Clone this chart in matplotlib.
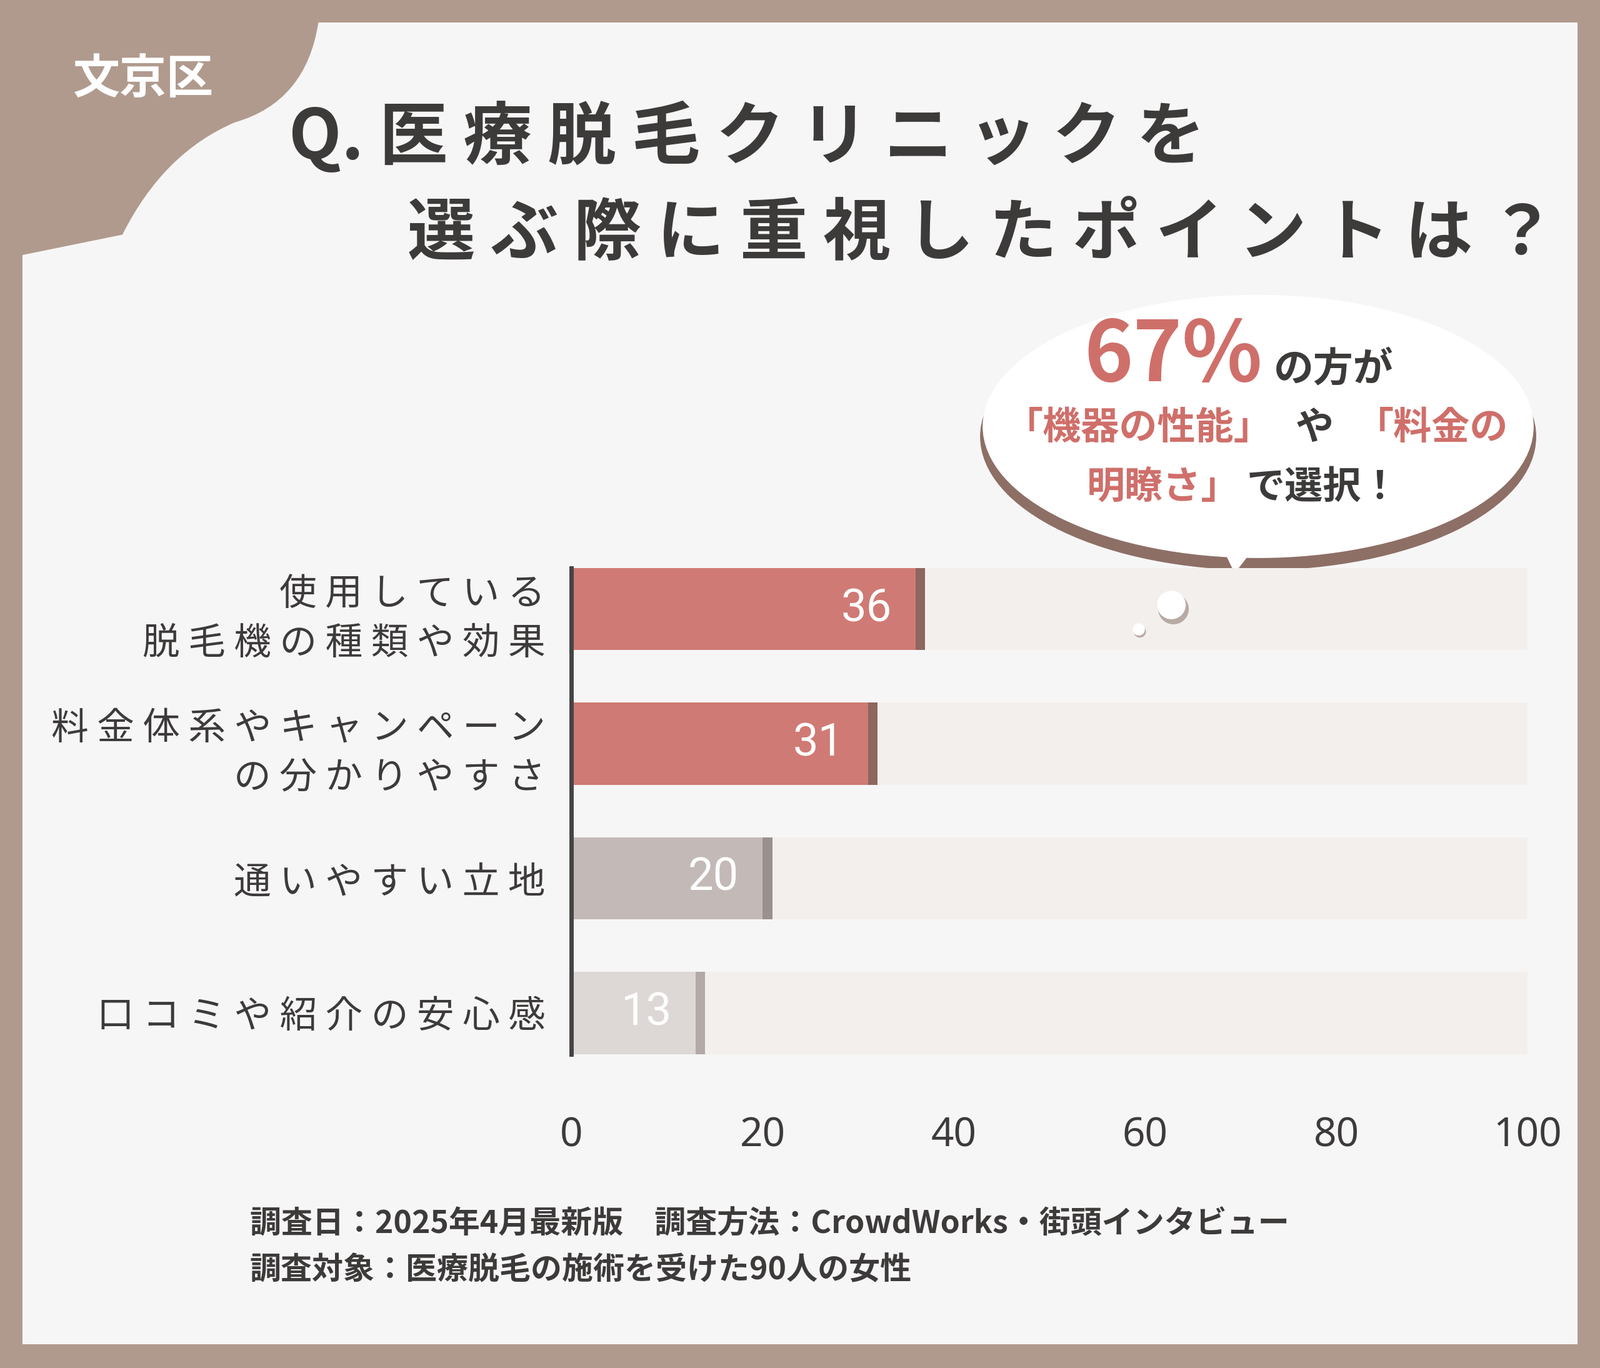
import matplotlib
matplotlib.use("Agg")
import matplotlib.pyplot as plt
from matplotlib.patches import Ellipse, Circle, Polygon, PathPatch, Rectangle
from matplotlib.path import Path

plt.rcParams["font.family"] = "Noto Sans CJK JP"

categories = ["使用している\n脱毛機の種類や効果", "料金体系やキャンペーン\nの分かりやすさ", "通いやすい立地", "口コミや紹介の安心感"]
values = [36, 31, 20, 13]
bar_colors = ["#cf7a75", "#cf7a75", "#c3bab7", "#ddd7d5"]
shadow_colors = ["#8e6660", "#8e6660", "#9a908d", "#b3aaa7"]
ticks = [0, 20, 40, 60, 80, 100]

BROWN = "#b09a8e"
DARK = "#3d3a3a"
RED = "#cf6f6a"

W, H = 1568, 1341
fig = plt.figure(figsize=(25.6, 21.89), dpi=100)
fig.patch.set_facecolor(BROWN)

# decoration layer in reference pixel coords
bg = fig.add_axes([0, 0, 1, 1])
bg.set_xlim(0, W)
bg.set_ylim(H, 0)
bg.axis("off")
bg.add_patch(Rectangle((22, 22), 1524, 1296, facecolor="#f7f6f6", edgecolor="none"))
blob = Path([(22, 22), (312, 22), (312, 22), (300, 100), (230, 120), (160, 150), (120, 230), (22, 250), (22, 22)],
            [Path.MOVETO, Path.LINETO, Path.LINETO, Path.CURVE3, Path.CURVE3, Path.CURVE3, Path.CURVE3, Path.LINETO, Path.CLOSEPOLY])
bg.add_patch(PathPatch(blob, facecolor=BROWN, edgecolor="none"))
bg.text(140, 78, "文京区", color="white", fontsize=54, fontweight="bold", ha="center", va="center")

def spaced(s):
    return " ".join(s)

bg.text(283, 135, "Q. " + spaced("医療脱毛クリニックを"), color=DARK, fontsize=79, fontweight="bold", ha="left", va="center")
bg.text(1525, 230, spaced("選ぶ際に重視したポイントは？"), color=DARK, fontsize=78, fontweight="bold", ha="right", va="center")

# speech bubble
bg.add_patch(Ellipse((1233, 428), 545, 262, facecolor="#8d6f66", edgecolor="none"))
bg.add_patch(Polygon([(1180, 520), (1250, 520), (1212, 575)], facecolor="#8d6f66", edgecolor="none"))
bg.add_patch(Ellipse((1233, 418), 540, 258, facecolor="white", edgecolor="none"))
bg.add_patch(Polygon([(1185, 510), (1250, 510), (1210, 562)], facecolor="white", edgecolor="none"))

bg.text(1150, 350, "67%", color=RED, fontsize=96, fontweight="bold", ha="center", va="center")
bg.text(1248, 362, "の方が", color=DARK, fontsize=46, fontweight="bold", ha="left", va="center")
bg.text(985, 420, "「機器の性能」", color=RED, fontsize=44, fontweight="bold", ha="left", va="center")
bg.text(1288, 420, "や", color=DARK, fontsize=44, fontweight="bold", ha="center", va="center")
bg.text(1478, 420, "「料金の", color=RED, fontsize=44, fontweight="bold", ha="right", va="center")
bg.text(1215, 478, "明瞭さ」", color=RED, fontsize=44, fontweight="bold", ha="right", va="center")
bg.text(1222, 478, "で選択！", color=DARK, fontsize=44, fontweight="bold", ha="left", va="center")

bg.text(245, 1200, "調査日：2025年4月最新版　調査方法：CrowdWorks・街頭インタビュー", color=DARK, fontsize=36, fontweight="bold", ha="left", va="center")
bg.text(245, 1245, "調査対象：医療脱毛の施術を受けた90人の女性", color=DARK, fontsize=36, fontweight="bold", ha="left", va="center")

# chart
ax = fig.add_axes([560 / W, 1 - 1060 / H, (1497 - 560) / W, 530 / H])
ax.patch.set_alpha(0)
pos = list(range(len(categories)))
hgt = 0.61
ax.barh(pos, [100] * len(pos), height=hgt, left=0.8, color="#e4dedb", zorder=1)
ax.barh(pos, [100] * len(pos), height=hgt, color="#f3efec", zorder=1.5)
ax.barh(pos, [v + 1.0 for v in values], height=hgt, color=shadow_colors, zorder=2)
ax.barh(pos, values, height=hgt, color=bar_colors, zorder=3)
for p, v in zip(pos, values):
    ax.text(v - 2.5, p, str(v), color="white", fontsize=52, fontfamily="Roboto",
            ha="right", va="center", zorder=4)
ax.set_xlim(0, 100)
ax.set_ylim(3.508, -0.508)
ax.set_xticks(ticks)
ax.set_xticklabels([str(t) for t in ticks], fontsize=46, color=DARK, fontfamily="Noto Sans")
ax.tick_params(axis="x", length=0, pad=40)
ax.set_yticks(pos)
ax.set_yticklabels(["\n".join(spaced(l) for l in c.split("\n")) for c in categories],
                   fontsize=43, color=DARK, linespacing=1.4, ha="right")
ax.tick_params(axis="y", length=0, pad=30)
for s in ["top", "right", "bottom"]:
    ax.spines[s].set_visible(False)
ax.spines["left"].set_color("#444444")
ax.spines["left"].set_linewidth(5)
ax.spines["left"].set_zorder(5)
ax.spines["left"].set_bounds(3.305, -0.305)

# small thought bubbles above the chart
top = fig.add_axes([0, 0, 1, 1])
top.set_xlim(0, W)
top.set_ylim(H, 0)
top.axis("off")
top.add_patch(Circle((1150, 597), 15, facecolor="#b8aaa5", edgecolor="none"))
top.add_patch(Circle((1148, 593), 14, facecolor="white", edgecolor="none"))
top.add_patch(Circle((1117, 619), 6, facecolor="#b8aaa5", edgecolor="none"))
top.add_patch(Circle((1116, 617), 6, facecolor="white", edgecolor="none"))

fig.savefig("out.png", dpi=100, facecolor=fig.get_facecolor())
